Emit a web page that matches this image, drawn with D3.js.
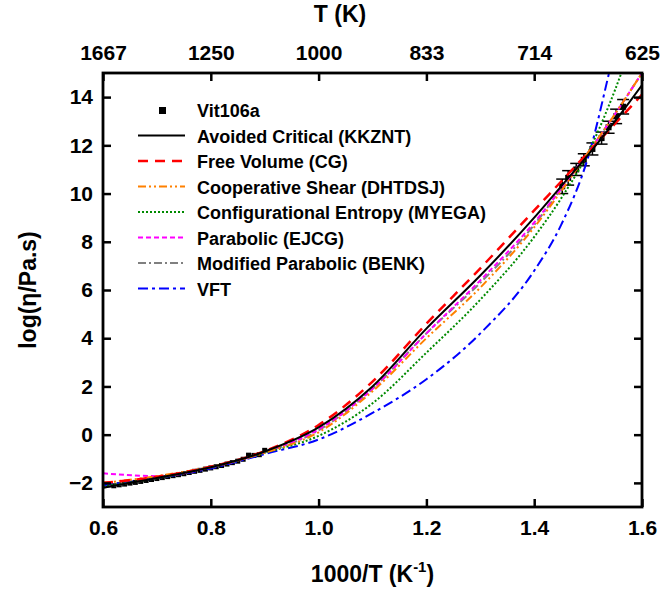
<!DOCTYPE html>
<html>
<head>
<meta charset="utf-8">
<script src="https://cdn.jsdelivr.net/npm/d3@7"></script>
<style>
  body { margin: 0; background: #fff; }
  text { font-family: "Liberation Sans", Arial, sans-serif; font-weight: bold; fill: #000; }
</style>
</head>
<body>
<div id="chart"></div>
<script>
// Data
const xGrid = [0.6, 0.7, 0.8, 0.9, 1.0, 1.1, 1.2, 1.3, 1.4, 1.45, 1.5, 1.55, 1.6]

const kkznt = [-2.2, -1.8, -1.35, -0.7, 0.3, 2.0, 4.4, 6.6, 9.0, 10.3, 11.6, 13.0, 14.5]
const cg    = [-2.0, -1.75, -1.33, -0.68, 0.4, 2.2, 4.6, 6.9, 9.3, 10.5, 11.7, 12.9, 14.1]
const dhtdsj = [-2.0, -1.72, -1.33, -0.75, 0.1, 1.8, 4.0, 6.1, 8.6, 10.1, 11.7, 13.3, 15.0]
const myega = [-2.15, -1.8, -1.35, -0.75, -0.05, 1.3, 3.4, 5.6, 8.2, 9.8, 11.7, 14.3, 17.5]
const ejcg  = [-1.6, -1.72, -1.35, -0.72, 0.22, 1.9, 4.2, 6.4, 8.8, 10.2, 11.7, 13.3, 15.0]
const benk  = [-2.2, -1.8, -1.35, -0.74, 0.18, 1.9, 4.2, 6.3, 8.7, 10.2, 11.7, 13.3, 15.0]
const vft   = [-2.1, -1.8, -1.4, -0.8, -0.2, 0.9, 2.3, 4.2, 6.8, 8.7, 11.5, 16.0, 20.0]

const seriesNames = [
  'Avoided Critical (KKZNT)', 'Free Volume (CG)', 'Cooperative Shear (DHTDSJ)',
  'Configurational Entropy (MYEGA)', 'Parabolic (EJCG)', 'Modified Parabolic (BENK)', 'VFT'
]
const seriesValues = [kkznt, cg, dhtdsj, myega, ejcg, benk, vft]

// Vit106a measurements
const hiX = [0.62, 0.63, 0.64, 0.65, 0.66, 0.67, 0.68, 0.69, 0.70, 0.71, 0.72, 0.73, 0.74, 0.75,
  0.76, 0.77, 0.78, 0.79, 0.80, 0.81, 0.82, 0.83, 0.84, 0.85, 0.86, 0.87, 0.88, 0.89, 0.90]
const hiY = [-2.12, -2.08, -2.05, -2.01, -1.98, -1.94, -1.9, -1.86, -1.82, -1.78, -1.74, -1.7, -1.66, -1.62,
  -1.57, -1.52, -1.48, -1.43, -1.38, -1.33, -1.28, -1.22, -1.16, -1.1, -1.02, -0.85, -0.86, -0.83, -0.65]
const loX = [1.452, 1.463, 1.478, 1.492, 1.508, 1.525, 1.538, 1.552, 1.565]
const loY = [10.3, 10.65, 11.0, 11.4, 11.85, 12.3, 12.75, 13.2, 13.6]
const loErr = [0.3, 0.3, 0.25, 0.25, 0.25, 0.25, 0.25, 0.3, 0.3]

const xTicks = [0.6, 0.8, 1.0, 1.2, 1.4, 1.6]
const topLabels = ['1667', '1250', '1000', '833', '714', '625']
const yTicks = [-2, 0, 2, 4, 6, 8, 10, 12, 14]

const colors = ['#000000', '#ff0000', '#ff8000', '#008a00', '#ff00ff', '#808080', '#0000ff']
const dashes = ['none', '10,7', '8,3,2,3,2,3', '2,2', '5,3', '8,3,2,3', '10,4,3,4']
const widths = [2, 2.5, 2, 2, 2, 2, 2]

// Dimensions
const dimensions = { width: 666, height: 592, left: 103, right: 24, top: 73, bottom: 85 }
dimensions.ctrWidth = dimensions.width - dimensions.left - dimensions.right
dimensions.ctrHeight = dimensions.height - dimensions.top - dimensions.bottom

const svg = d3.select('#chart').append('svg')
  .attr('width', dimensions.width)
  .attr('height', dimensions.height)

const ctr = svg.append('g')
  .attr('transform', `translate(${dimensions.left}, ${dimensions.top})`)

// Scales
const x = d3.scaleLinear().domain([0.6, 1.6]).range([0, dimensions.ctrWidth])
const y = d3.scaleLinear().domain([-3, 15]).range([dimensions.ctrHeight, 0])

ctr.append('clipPath').attr('id', 'clip')
  .append('rect').attr('width', dimensions.ctrWidth).attr('height', dimensions.ctrHeight)

// Data points
const pts = ctr.append('g').attr('clip-path', 'url(#clip)')
pts.selectAll('rect.hi')
  .data(hiX.map((v, i) => [v, hiY[i]]))
  .join('rect')
  .attr('x', d => x(d[0]) - 2.5).attr('y', d => y(d[1]) - 2.5)
  .attr('width', 5).attr('height', 5)
  .attr('fill', '#000')

const lo = loX.map((v, i) => ({ x: v, y: loY[i], e: loErr[i] }))
pts.selectAll('rect.lo')
  .data(lo)
  .join('rect')
  .attr('x', d => x(d.x) - 3).attr('y', d => y(d.y) - 3)
  .attr('width', 6).attr('height', 6)
  .attr('fill', '#000')
const bars = pts.selectAll('g.err').data(lo).join('g').attr('stroke', '#000').attr('stroke-width', 1.5)
bars.append('line').attr('x1', d => x(d.x)).attr('x2', d => x(d.x))
  .attr('y1', d => y(d.y - d.e)).attr('y2', d => y(d.y + d.e))
bars.append('line').attr('x1', d => x(d.x) - 6).attr('x2', d => x(d.x) + 6)
  .attr('y1', d => y(d.y + d.e)).attr('y2', d => y(d.y + d.e))
bars.append('line').attr('x1', d => x(d.x) - 6).attr('x2', d => x(d.x) + 6)
  .attr('y1', d => y(d.y - d.e)).attr('y2', d => y(d.y - d.e))

// Model curves
const line = d3.line()
  .x((d, i) => x(xGrid[i]))
  .y(d => y(d))
  .curve(d3.curveMonotoneX)

ctr.append('g').attr('clip-path', 'url(#clip)')
  .selectAll('path')
  .data(seriesValues.map((v, i) => i).reverse())
  .join('path')
  .attr('d', i => line(seriesValues[i]))
  .attr('fill', 'none')
  .attr('stroke', i => colors[i])
  .attr('stroke-width', i => widths[i])
  .attr('stroke-dasharray', i => dashes[i])

// Axes
const axisFont = g => g.selectAll('text').style('font-size', '21px').style('font-family', '"Liberation Sans", Arial, sans-serif').style('font-weight', 'bold')
const axisStyle = g => {
  g.select('.domain').remove()
  g.selectAll('.tick line').attr('stroke-width', 2.5)
}

ctr.append('g')
  .attr('transform', `translate(0, ${dimensions.ctrHeight})`)
  .call(d3.axisBottom(x).tickValues(xTicks).tickFormat(d3.format('.1f')).tickSizeInner(-8).tickPadding(13))
  .call(axisStyle).call(axisFont)

ctr.append('g')
  .call(d3.axisTop(x).tickValues(xTicks).tickFormat((d, i) => topLabels[i]).tickSizeInner(-8).tickPadding(13))
  .call(axisStyle).call(axisFont)

ctr.append('g')
  .call(d3.axisLeft(y).tickValues(yTicks).tickSizeInner(-8).tickPadding(10))
  .call(axisStyle).call(axisFont)

ctr.append('g')
  .attr('transform', `translate(${dimensions.ctrWidth}, 0)`)
  .call(d3.axisRight(y).tickValues(yTicks).tickSizeInner(-8).tickFormat(''))
  .call(axisStyle)

ctr.append('rect')
  .attr('width', dimensions.ctrWidth).attr('height', dimensions.ctrHeight)
  .attr('fill', 'none').attr('stroke', '#000').attr('stroke-width', 2.8)

// Axis titles
svg.append('text')
  .attr('x', dimensions.left + dimensions.ctrWidth / 2).attr('y', 582)
  .attr('text-anchor', 'middle').style('font-size', '23px')
  .call(t => t.append('tspan').text('1000/T (K'))
  .call(t => t.append('tspan').attr('dy', -10).style('font-size', '15px').text('-1'))
  .call(t => t.append('tspan').attr('dy', 10).text(')'))

svg.append('text')
  .attr('x', 340).attr('y', 22)
  .attr('text-anchor', 'middle').style('font-size', '23px')
  .text('T (K)')

svg.append('text')
  .attr('transform', `translate(36, ${dimensions.top + dimensions.ctrHeight / 2}) rotate(-90)`)
  .attr('text-anchor', 'middle').style('font-size', '23px')
  .text('log(η/Pa.s)')

// Legend
const legend = svg.append('g').attr('transform', 'translate(138, 110)')
legend.append('rect').attr('x', 21).attr('y', -3).attr('width', 7).attr('height', 7).attr('fill', '#000')
legend.append('text').attr('x', 59).attr('y', 7).style('font-size', '18px').text('Vit106a')

const rows = legend.selectAll('g.row')
  .data(seriesNames)
  .join('g')
  .attr('transform', (d, i) => `translate(0, ${25.5 * (i + 1)})`)
rows.append('line')
  .attr('x1', 0).attr('x2', 47)
  .attr('stroke', (d, i) => colors[i])
  .attr('stroke-width', (d, i) => widths[i])
  .attr('stroke-dasharray', (d, i) => dashes[i])
rows.append('text')
  .attr('x', 59).attr('y', 7)
  .style('font-size', '18px')
  .text(d => d)
</script>
</body>
</html>
